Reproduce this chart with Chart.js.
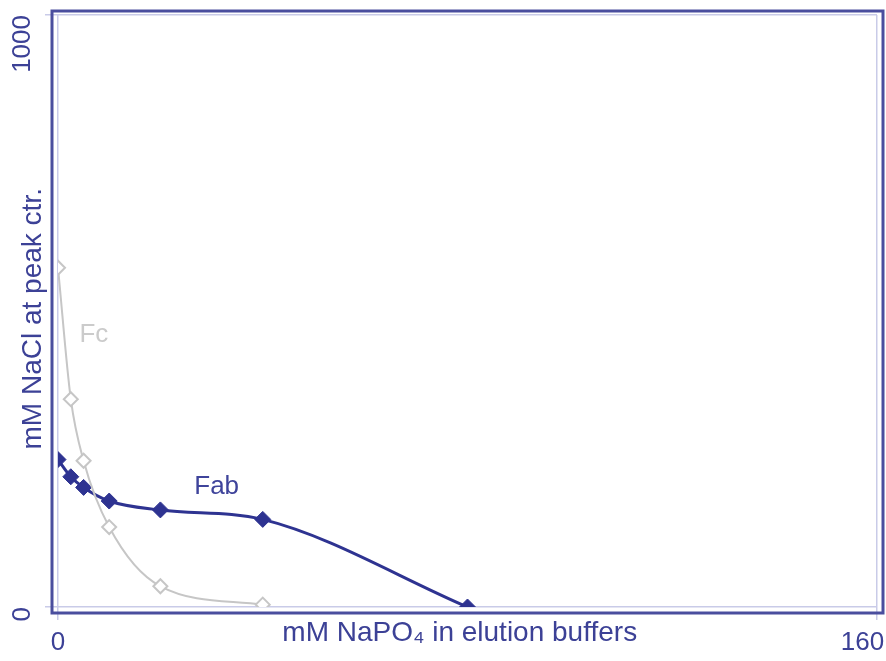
<!DOCTYPE html>
<html>
<head>
<meta charset="utf-8">
<script src="https://cdn.jsdelivr.net/npm/chart.js@4.4.1/dist/chart.umd.min.js"></script>
<style>
  html, body { margin: 0; padding: 0; background: #fff; }
  #wrap { width: 886px; height: 661px; }
</style>
</head>
<body>
<div id="wrap"><canvas id="elutionChart" width="886" height="661"></canvas></div>
<script>
// data
const fabNaPO4 = [0, 2.5, 5, 10, 20, 40, 80];
const fabNaCl = [249, 220, 202, 179, 164, 148, 0];
const fcNaPO4 = [0, 2.5, 5, 10, 20, 40];
const fcNaCl = [573, 351, 247, 135, 35, 4];
const xTicks = [0, 160];
const yTicks = [0, 1000];

const navy = '#2e3391';
const navyText = '#3c4196';
const lightLine = '#c9cbe8';
const grey = '#c6c6c6';
const fontFamily = "'Liberation Sans', Arial, sans-serif";
const nbsp2 = '\u00a0\u00a0';

function toPoints(xs, ys) {
    return xs.map((x, i) => ({ x: x, y: ys[i] }));
}

// outer frame + curve labels
const framePlugin = {
    id: 'frame',
    beforeDatasetsDraw(chart) {
        const { ctx, chartArea: a } = chart;
        ctx.save();
        ctx.strokeStyle = '#4a4e9e';
        ctx.lineWidth = 3;
        ctx.strokeRect(a.left - 6, a.top - 4, a.right - a.left + 12, a.bottom - a.top + 10);
        ctx.restore();
    },
    afterDatasetsDraw(chart) {
        const { ctx, scales } = chart;
        ctx.save();
        ctx.font = '26px ' + fontFamily;
        ctx.textAlign = 'center';
        ctx.textBaseline = 'middle';
        ctx.fillStyle = '#cbcbcb';
        ctx.fillText('Fc', scales.x.getPixelForValue(7), scales.y.getPixelForValue(459));
        ctx.fillStyle = '#3f449b';
        ctx.fillText('Fab', scales.x.getPixelForValue(31), scales.y.getPixelForValue(203));
        ctx.restore();
    }
};

new Chart(document.getElementById('elutionChart'), {
    type: 'scatter',
    data: {
        datasets: [{
            label: 'Fc',
            data: toPoints(fcNaPO4, fcNaCl),
            showLine: true,
            borderColor: grey,
            borderWidth: 2,
            cubicInterpolationMode: 'monotone',
            pointStyle: 'rectRot',
            pointRadius: 7,
            pointBorderWidth: 2,
            pointBackgroundColor: '#fff',
            pointBorderColor: grey
        }, {
            label: 'Fab',
            data: toPoints(fabNaPO4, fabNaCl),
            showLine: true,
            borderColor: navy,
            borderWidth: 3,
            cubicInterpolationMode: 'monotone',
            pointStyle: 'rectRot',
            pointRadius: 8,
            pointBorderWidth: 1,
            pointBackgroundColor: navy,
            pointBorderColor: navy
        }]
    },
    options: {
        responsive: false,
        animation: false,
        layout: { padding: { top: 15, right: 9, left: 0, bottom: 0 } },
        plugins: {
            legend: { display: false },
            tooltip: { enabled: false }
        },
        scales: {
            x: {
                type: 'linear',
                min: 0,
                max: 160,
                afterBuildTicks(s) { s.ticks = xTicks.map(v => ({ value: v })); },
                afterFit(s) { s.height = 54; s.paddingLeft = 0; s.paddingRight = 0; },
                border: { display: false },
                grid: { color: lightLine, lineWidth: 1.5, tickLength: 13 },
                ticks: {
                    padding: 7,
                    color: navyText,
                    font: { family: fontFamily, size: 26 },
                    callback: v => v === 160 ? '160\u00a0\u00a0\u00a0\u00a0' : String(v)
                },
                title: {
                    display: true,
                    text: 'mM NaPO\u2084 in elution buffers' + nbsp2,
                    color: navyText,
                    font: { family: fontFamily, size: 28 },
                    padding: { top: 0, bottom: 11 }
                }
            },
            y: {
                type: 'linear',
                min: 0,
                max: 1000,
                afterBuildTicks(s) { s.ticks = yTicks.map(v => ({ value: v })); },
                afterFit(s) { s.width = 58; s.paddingTop = 0; s.paddingBottom = 0; },
                border: { display: false },
                grid: { color: lightLine, lineWidth: 1.5, tickLength: 13 },
                ticks: {
                    minRotation: 90,
                    maxRotation: 90,
                    padding: 22,
                    color: navyText,
                    font: { family: fontFamily, size: 26 },
                    callback: v => String(v)
                },
                title: {
                    display: true,
                    text: 'mM NaCl at peak ctr.' + nbsp2,
                    color: navyText,
                    font: { family: fontFamily, size: 28 },
                    padding: { top: 16, bottom: 0 }
                }
            }
        }
    },
    plugins: [framePlugin]
});
</script>
</body>
</html>
